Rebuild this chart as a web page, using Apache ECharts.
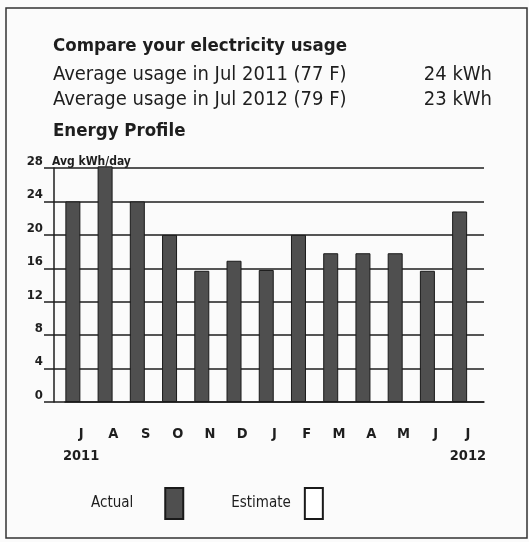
<!DOCTYPE html>
<html><head><meta charset="utf-8">
<script src="https://cdn.jsdelivr.net/npm/echarts@6/dist/echarts.min.js"></script>
<style>html,body{margin:0;padding:0;background:#fbfbfb}#c{width:529px;height:542px}</style>
</head><body><div id="c"></div>
<script>
const months = ['J','A','S','O','N','D','J','F','M','A','M','J','J'];
const yearLabels = ['2011','','','','','','','','','','','','2012'];
const actual = [24, 28.2, 24, 20, 15.7, 16.9, 15.8, 20, 17.8, 17.8, 17.8, 15.7, 22.8];
const estimate = [];
const yTicks = [0, 4, 8, 12, 16, 20, 24, 28];
const headerLines = ['Average usage in Jul 2011 (77 F)', 'Average usage in Jul 2012 (79 F)'];
const headerValues = ['24 kWh', '23 kWh'];

const F = '"DejaVu Sans Condensed", "Liberation Sans", Arial, sans-serif';
const ink = '#1e1e1e';
const chart = echarts.init(document.getElementById('c'));
const cats = months.map((m, i) => yearLabels[i] ? m + '\n' + yearLabels[i] : m);

chart.setOption({
  backgroundColor: '#fbfbfb',
  animation: false,
  title: [
    {text: 'Compare your electricity usage', left: 48, top: 32, textStyle: {fontFamily: F, fontSize: 18.5, fontWeight: 'bold', color: ink}},
    {text: headerLines[0], left: 48, top: 60, textStyle: {fontFamily: F, fontSize: 20, fontWeight: 'normal', color: ink}},
    {text: headerValues[0], right: 32, top: 60, textStyle: {fontFamily: F, fontSize: 20, fontWeight: 'normal', color: ink}},
    {text: headerLines[1], left: 48, top: 85, textStyle: {fontFamily: F, fontSize: 20, fontWeight: 'normal', color: ink}},
    {text: headerValues[1], right: 32, top: 85, textStyle: {fontFamily: F, fontSize: 20, fontWeight: 'normal', color: ink}},
    {text: 'Energy Profile', left: 48, top: 117, textStyle: {fontFamily: F, fontSize: 18.5, fontWeight: 'bold', color: ink}},
    {text: 'Avg kWh/day', left: 47, top: 151, textStyle: {fontFamily: F, fontSize: 12, fontWeight: 'bold', color: ink}}
  ],
  legend: {
    left: 86, top: 482, itemWidth: 18, itemHeight: 31, itemGap: 47, align: 'right',
    icon: 'rect',
    textStyle: {fontFamily: F, fontSize: 15, color: ink},
    data: [
      {name: 'Actual', textStyle: {padding: [0, 27, 0, 0]}},
      {name: 'Estimate', textStyle: {padding: [0, 9, 0, 0]}}
    ]
  },
  grid: {left: 65, right: 45, top: 168, bottom: 140},
  xAxis: {
    type: 'category', data: cats,
    axisLine: {lineStyle: {color: ink, width: 1.5}},
    axisTick: {alignWithLabel: true, length: 10, lineStyle: {color: ink, width: 1.5}},
    axisLabel: {fontFamily: F, fontSize: 14.5, fontWeight: 'bold', color: ink, margin: 21, lineHeight: 22, interval: 0}
  },
  yAxis: [{
    type: 'value', min: 0, max: 28, interval: 4, offset: 11,
    axisLine: {show: true, lineStyle: {color: ink, width: 1.5}},
    axisTick: {show: true, length: 10, lineStyle: {color: ink, width: 1.5}},
    axisLabel: {fontFamily: F, fontSize: 13, fontWeight: 'bold', color: ink, margin: 11, verticalAlign: 'bottom',
      formatter: v => yTicks.includes(v) ? String(v) : ''},
    splitLine: {show: true, lineStyle: {color: ink, width: 1.5}}
  }, {
    type: 'value', min: 0, max: 28, interval: 4, position: 'left', offset: 0,
    axisLine: {show: false}, axisLabel: {show: false}, splitLine: {show: false},
    axisTick: {show: true, length: 11, lineStyle: {color: ink, width: 1.5}}
  }],
  series: [
    {name: 'Actual', type: 'bar', data: actual, barWidth: 15, clip: false,
      itemStyle: {color: '#4f4f4f', borderColor: '#1a1a1a', borderWidth: 1}},
    {name: 'Estimate', type: 'bar', data: estimate, barWidth: 15,
      itemStyle: {color: '#ffffff', borderColor: '#1a1a1a', borderWidth: 1}}
  ],
  graphic: [{
    type: 'rect', shape: {x: 6, y: 8, width: 521, height: 530},
    style: {fill: 'none', stroke: '#333', lineWidth: 1.5}, silent: true
  }]
});
</script></body></html>
